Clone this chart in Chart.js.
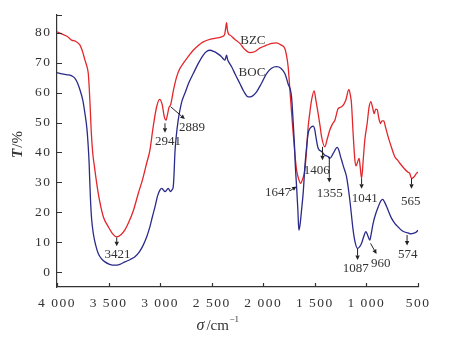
<!DOCTYPE html>
<html><head><meta charset="utf-8">
<script src="https://cdn.jsdelivr.net/npm/chart.js@4.4.1/dist/chart.umd.min.js"></script>
<style>html,body{margin:0;padding:0;background:#fff;}#wrap{width:462px;height:339px;position:relative;}</style>
</head><body><div id="wrap"><canvas id="c" width="462" height="339"></canvas></div>
<script>
// ---- data ----
const seriesNames = ['BZC', 'BOC'];
const bzcWave = [4000,3950,3900,3858,3820,3777,3750,3729,3710,3697,3688,3680,3668,3654,3640,3600,3551,3503,3460,3422,3380,3340,3309,3260,3212,3170,3131,3099,3070,3034,3005,2980,2960,2944,2930,2915,2898,2870,2840,2810,2776,2730,2679,2630,2582,2500,2404,2375,2365,2356,2348,2335,2324,2280,2227,2180,2130,2080,2030,1968,1920,1871,1830,1791,1775,1759,1740,1725,1710,1695,1677,1660,1638,1620,1597,1580,1565,1550,1532,1507,1490,1468,1450,1435,1403,1380,1355,1330,1306,1274,1240,1200,1170,1155,1145,1130,1112,1100,1090,1071,1060,1047,1030,1016,993,975,958,940,925,910,896,880,863,850,832,815,790,760,725,700,676,630,600,580,563,540,515,500];
const bzcT = [80.4,79.6,78.8,77.6,77.2,75.9,73.5,70.9,68.8,66.5,62,56.5,47,40,36,26.3,18.5,15.2,12.8,11.8,12.5,14.2,16.3,20.5,26.3,31,36.4,40.8,48,55.3,57.8,56,52,50.8,52.5,55,56,61,65.3,68,69.8,72,74.2,75.8,77,78,78.7,79.5,81.5,83.4,81,79.5,79.3,78,76.5,74.5,73.4,73.8,75,75.9,76.5,76.7,76,74.8,72.5,68.7,60,53,46.4,40,34.1,31.5,29.7,31,34.1,41,48.6,53,57.5,60.6,57.5,53,49,45.3,41.9,44.5,47.5,49.5,50.8,54.7,55.3,57.5,61.1,59,56.4,47,37.5,35.5,36.4,38,35,31.3,38,44.1,49.7,55,57,55,53,54.5,54.4,51.5,49.7,50.6,50.6,48.5,45.3,42,38.6,37.5,36.4,34.5,33.5,33,31.3,31.8,33,33.5];
const bocWave = [4000,3950,3900,3874,3850,3826,3800,3777,3750,3729,3710,3697,3688,3683,3675,3665,3648,3625,3600,3570,3535,3490,3438,3390,3341,3290,3244,3200,3164,3130,3099,3075,3050,3025,3002,2985,2970,2953,2935,2921,2908,2898,2885,2873,2865,2857,2845,2825,2808,2790,2760,2720,2679,2630,2582,2550,2517,2480,2440,2404,2385,2372,2362,2356,2345,2330,2307,2270,2227,2190,2146,2110,2065,2020,1968,1920,1871,1830,1791,1760,1726,1710,1697,1690,1677,1665,1655,1645,1629,1612,1597,1581,1565,1532,1516,1500,1490,1468,1435,1403,1371,1355,1322,1284,1265,1251,1241,1220,1193,1161,1129,1110,1087,1065,1047,1025,1006,990,967,955,935,910,886,860,843,825,790,760,725,690,660,630,596,570,547,520,500];
const bocT = [66.7,66.3,66.0,65.9,65.5,64.8,63.2,60.9,57.5,53,48,41.9,36,31,24,18,12.9,9,6.2,4.5,3.4,2.6,2.3,2.6,3.4,4.2,5.1,6.8,9,11.8,15.2,18.5,21.8,25.5,27.4,28,27.5,26.9,27.5,28,27.3,26.9,27.5,28.5,33,39.7,45,50.8,54.2,57,59.8,63.5,66.4,69.8,72.6,73.8,74.2,73.8,73,72,71.2,70.9,72,72.6,71,70,68.7,66,63.1,60.5,58.6,58.8,60.3,63,66.4,68.2,68.7,68.2,66.4,63,58.6,50,42,36,28.5,21,14,15.5,20.7,27,35.2,41.5,46.4,48.6,48.8,47.5,45.3,41.4,40.3,39.1,38.6,38,39.7,41.7,40.5,38.6,37.5,35,31.9,24.1,14,10,7.9,8.5,9.6,12,13.5,12.5,10.7,12.5,16.3,19.5,21.8,23.8,24.3,23.5,20.7,18.2,16.3,15,14,13.4,13.1,12.8,12.9,13.3,14];
const xTickValues = [4000,3500,3000,2500,2000,1500,1000,500];
const yTickValues = [0,10,20,30,40,50,60,70,80];
const peakLabels = ['3421','2941','2889','1647','1406','1355','1041','565','1087','960','574'];

// ---- annotation layout (data coordinates) ----
const peakTextPos = {
  '3421':[3414,6.0], '2941':[2924,43.5], '2889':[2692,48.5], '1647':[1858,26.6],
  '1406':[1481,34.1], '1355':[1355,26.4], '1041':[1016,24.7], '565':[570,23.7],
  '1087':[1103,1.0], '960':[860,3.0], '574':[599,5.7]
};
const peakArrows = {
  '3421':[[3421,11.6],[3421,8.6]], '2941':[[2953,49.8],[2953,46.6]],
  '2889':[[2898,55.3],[2760,51.2]], '1647':[[1740,27.2],[1677,28.6]],
  '1406':[[1426,41.9],[1426,37.4]], '1355':[[1360,38.6],[1360,30.0]],
  '1041':[[1047,31.3],[1047,27.9]], '565':[[563,31.3],[563,27.9]],
  '1087':[[1086,7.9],[1086,4.0]], '960':[[960,9.6],[902,6.0]],
  '574':[[606,12.4],[606,8.9]]
};
const seriesTextPos = {'BZC':[2101,77.3], 'BOC':[2110,66.6]};

const RED = '#e3262b', BLUE = '#2a2a8a', INK = '#333';
const SERIF = '"Liberation Serif", "DejaVu Serif", serif';

function fmtTick(v){
  if (v >= 1000) return Math.floor(v/1000) + ' ' + String(v % 1000).padStart(3,'0');
  return String(v);
}

const decor = {
  id: 'decor',
  beforeDraw(chart){ chart.ctx.letterSpacing = '1.5px'; },
  beforeDatasetsDraw(chart){ chart.ctx.letterSpacing = '0px'; },
  afterDraw(chart){
    const ctx = chart.ctx, xs = chart.scales.x, ys = chart.scales.y, a = chart.chartArea;
    ctx.save();
    ctx.letterSpacing = '0px';
    ctx.strokeStyle = INK; ctx.lineWidth = 1.2;
    // inside tick marks
    ctx.beginPath();
    yTickValues.concat([ys.max]).forEach(v => {
      const py = Math.round(ys.getPixelForValue(v)) + 0.5;
      ctx.moveTo(a.left, py); ctx.lineTo(a.left + 5, py);
    });
    xTickValues.forEach(v => {
      const px = Math.round(xs.getPixelForValue(v)) + 0.5;
      ctx.moveTo(px, a.bottom); ctx.lineTo(px, a.bottom - 4);
    });
    ctx.stroke();
    // arrows
    ctx.strokeStyle = '#222'; ctx.fillStyle = '#222'; ctx.lineWidth = 1;
    peakLabels.forEach(k => {
      const [[x1,y1],[x2,y2]] = peakArrows[k];
      const p1 = [xs.getPixelForValue(x1), ys.getPixelForValue(y1)];
      const p2 = [xs.getPixelForValue(x2), ys.getPixelForValue(y2)];
      const ang = Math.atan2(p2[1]-p1[1], p2[0]-p1[0]);
      const L = 4.5, W = 2.2;
      const bx = p2[0] - L*Math.cos(ang), by = p2[1] - L*Math.sin(ang);
      ctx.beginPath(); ctx.moveTo(p1[0], p1[1]); ctx.lineTo(bx, by); ctx.stroke();
      ctx.beginPath();
      ctx.moveTo(p2[0], p2[1]);
      ctx.lineTo(bx + W*Math.sin(ang), by - W*Math.cos(ang));
      ctx.lineTo(bx - W*Math.sin(ang), by + W*Math.cos(ang));
      ctx.closePath(); ctx.fill();
    });
    // peak texts
    ctx.fillStyle = INK; ctx.font = '13px ' + SERIF;
    ctx.textAlign = 'center'; ctx.textBaseline = 'middle';
    peakLabels.forEach(k => {
      const [x,y] = peakTextPos[k];
      ctx.fillText(k, xs.getPixelForValue(x), ys.getPixelForValue(y));
    });
    seriesNames.forEach(k => {
      const [x,y] = seriesTextPos[k];
      ctx.fillText(k, xs.getPixelForValue(x), ys.getPixelForValue(y));
    });
    // axis titles
    ctx.textAlign = 'left'; ctx.textBaseline = 'alphabetic';
    const cx = (a.left + a.right)/2 - 20, by = 330;
    ctx.font = 'italic 16px ' + SERIF;
    let w1 = ctx.measureText('σ').width;
    ctx.font = '15px ' + SERIF;
    let w2 = ctx.measureText('/cm').width;
    ctx.font = '9px ' + SERIF;
    let w3 = ctx.measureText('−1').width;
    let sx = cx - (w1+w2+w3+2)/2;
    ctx.font = 'italic 16px ' + SERIF; ctx.fillText('σ', sx, by);
    ctx.font = '15px ' + SERIF; ctx.fillText('/cm', sx + w1 + 2, by);
    ctx.font = '9px ' + SERIF; ctx.fillText('−1', sx + w1 + 2 + w2 + 0.5, by - 8);
    // y title
    ctx.translate(18, 145); ctx.rotate(-Math.PI/2);
    ctx.font = 'italic bold 15px ' + SERIF;
    const t1 = ctx.measureText('T').width;
    ctx.font = '15px ' + SERIF;
    const t2 = ctx.measureText('/%').width;
    ctx.textBaseline = 'middle';
    ctx.font = 'italic bold 15px ' + SERIF; ctx.fillText('T', -(t1+t2)/2, 0);
    ctx.font = '15px ' + SERIF; ctx.fillText('/%', -(t1+t2)/2 + t1 + 1, 0);
    ctx.restore();
  }
};

new Chart(document.getElementById('c'), {
  type: 'line',
  data: {
    datasets: [
      { label: seriesNames[1], data: bocWave.map((w,i)=>({x:w, y:bocT[i]})), borderColor: BLUE, borderWidth: 1.3, pointRadius: 0, fill: false, cubicInterpolationMode: 'monotone' },
      { label: seriesNames[0], data: bzcWave.map((w,i)=>({x:w, y:bzcT[i]})), borderColor: RED, borderWidth: 1.3, pointRadius: 0, fill: false, cubicInterpolationMode: 'monotone' }
    ]
  },
  options: {
    responsive: false, animation: false, devicePixelRatio: 1,
    layout: { padding: { left: 0, right: 44, top: 15, bottom: 0 } },
    plugins: { legend: { display: false }, tooltip: { enabled: false } },
    scales: {
      x: {
        type: 'linear', reverse: true, min: 500, max: 4000,
        afterBuildTicks: s => { s.ticks = xTickValues.map(v => ({ value: v })); },
        afterFit: s => { s.height = 52; },
        ticks: { callback: v => fmtTick(v), autoSkip: false, maxRotation: 0, font: { family: SERIF, size: 13.5 }, color: INK, padding: 8 },
        grid: { display: false, drawTicks: false },
        border: { display: true, color: INK, width: 1.2 }
      },
      y: {
        type: 'linear', min: -5, max: 86,
        afterBuildTicks: s => { s.ticks = yTickValues.map(v => ({ value: v })); },
        afterFit: s => { s.width = 57; },
        ticks: { font: { family: SERIF, size: 13.5 }, color: INK, padding: 5.5 },
        grid: { display: false, drawTicks: false },
        border: { display: true, color: INK, width: 1.2 }
      }
    }
  },
  plugins: [decor]
});
</script></body></html>
